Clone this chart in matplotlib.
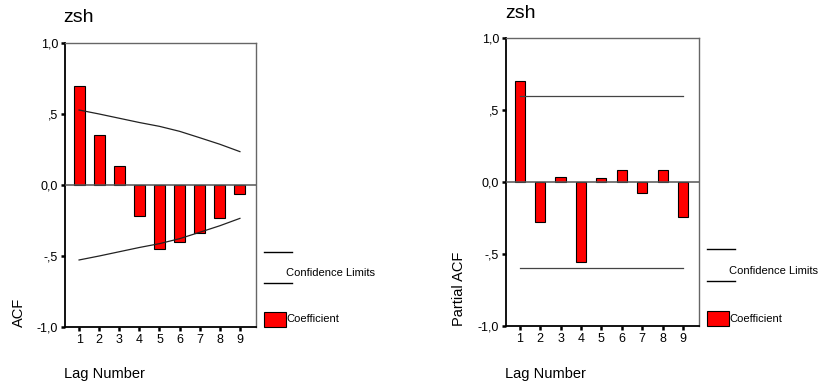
import matplotlib.pyplot as plt
from matplotlib.lines import Line2D
from matplotlib.patches import Rectangle

plt.rcParams["font.family"] = ["Liberation Sans", "DejaVu Sans"]

lags = [1, 2, 3, 4, 5, 6, 7, 8, 9]
acf = [0.70, 0.35, 0.134, -0.22, -0.45, -0.40, -0.34, -0.23, -0.06]
acf_limit = [0.528, 0.50, 0.47, 0.44, 0.413, 0.378, 0.333, 0.287, 0.235]
pacf = [0.70, -0.28, 0.037, -0.553, 0.03, 0.081, -0.074, 0.081, -0.243]
pacf_limit = [0.60] * 9
ytick_values = [-1.0, -0.5, 0.0, 0.5, 1.0]
ytick_labels = ["-1,0", "-,5", "0,0", ",5", "1,0"]

W, H = 818, 384
fig = plt.figure(figsize=(W / 100, H / 100), dpi=100)


def px_box(left, top, right, bottom):
    return [left / W, 1 - bottom / H, (right - left) / W, (bottom - top) / H]


def draw_panel(box, values, upper, lower, xlim, width, ylabel, title_xy, label_x, ylabel_x, legend_x, limit_color):
    ax = fig.add_axes(px_box(*box))
    ax.bar(lags, values, width=width, color="#ff0000", edgecolor="black", linewidth=0.8, zorder=2)
    ax.plot(lags, upper, color=limit_color, lw=0.9, zorder=3)
    ax.plot(lags, lower, color=limit_color, lw=0.9, zorder=3)
    ax.axhline(0, color="#555555", lw=1.1, zorder=3)
    ax.set_xlim(*xlim)
    ax.set_ylim(-1, 1)
    ax.set_xticks(lags)
    ax.set_xticklabels([str(v) for v in lags], fontsize=9)
    ax.set_yticks(ytick_values)
    ax.set_yticklabels(ytick_labels, fontsize=9)
    ax.tick_params(axis="both", direction="out", length=3, width=1.8, color="black", pad=2)
    for side in ("left", "bottom"):
        ax.spines[side].set_color("black")
        ax.spines[side].set_linewidth(1.3)
    for side in ("top", "right"):
        ax.spines[side].set_color("#666666")
        ax.spines[side].set_linewidth(1.0)

    fig.text(title_xy[0] / W, 1 - title_xy[1] / H, "zsh", fontsize=14, va="center", ha="left")
    fig.text(label_x / W, 1 - 374 / H, "Lag Number", fontsize=10.5, va="center", ha="left")
    fig.text(ylabel_x / W, 1 - box[3] / H, ylabel, fontsize=10.5, rotation=90, va="bottom", ha="center")

    lx, ly1, ly2, ty, py1, py2 = legend_x
    for yy in (ly1, ly2):
        fig.add_artist(Line2D([lx / W, (lx + 28) / W], [1 - yy / H, 1 - yy / H], color="black", lw=1.0))
    fig.text((lx + 22) / W, 1 - ty / H, "Confidence Limits", fontsize=8, va="center", ha="left")
    fig.add_artist(Rectangle((lx / W, 1 - py2 / H), 22 / W, (py2 - py1) / H,
                             facecolor="#ff0000", edgecolor="black", lw=0.8))
    fig.text((lx + 22) / W, 1 - (py1 + py2) / 2 / H, "Coefficient", fontsize=8, va="center", ha="left")
    return ax


draw_panel((65, 43, 256, 327), acf, acf_limit, [-v for v in acf_limit], (0.30, 9.8), 0.55,
           "ACF", (63, 18), 64, 19, (264, 252, 283, 273, 312, 327), "#222222")
draw_panel((506, 38, 699, 326), pacf, pacf_limit, [-v for v in pacf_limit], (0.33, 9.78), 0.5,
           "Partial ACF", (505, 13), 505, 459, (707, 249, 281, 271, 311, 326), "#444444")

fig.savefig("out.png", dpi=100)
